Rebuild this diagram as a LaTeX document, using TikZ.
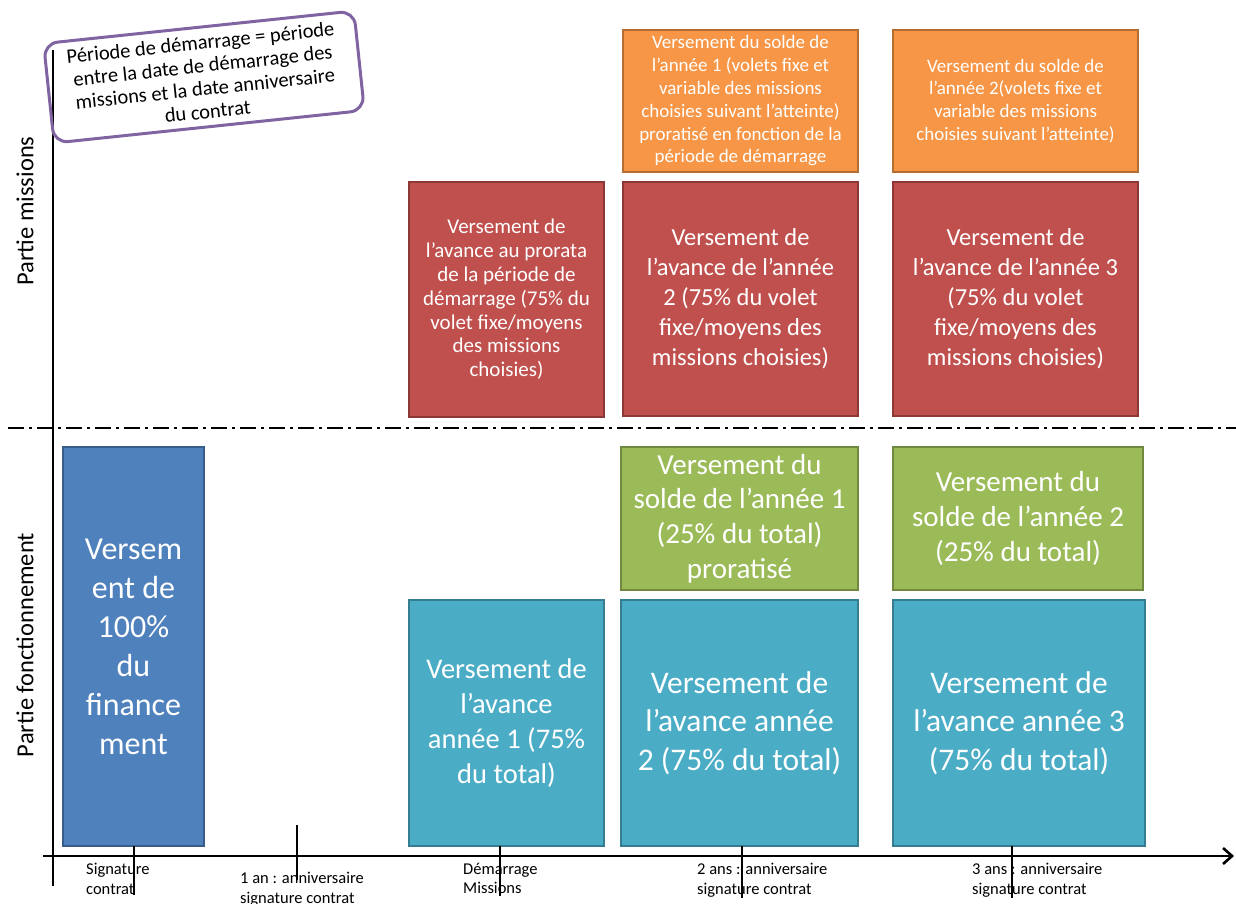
\documentclass[tikz,border=0pt]{standalone}
\usepackage{fontspec}
\setmainfont{Carlito}
\usetikzlibrary{arrows.meta}
\definecolor{cblue}{HTML}{4F81BD}\definecolor{cblueb}{HTML}{385D8A}
\definecolor{cteal}{HTML}{4BACC6}\definecolor{ctealb}{HTML}{357D91}
\definecolor{cgreen}{HTML}{9BBB59}\definecolor{cgreenb}{HTML}{71893F}
\definecolor{cred}{HTML}{C0504D}\definecolor{credb}{HTML}{8C3836}
\definecolor{corange}{HTML}{F79646}\definecolor{corangeb}{HTML}{B66D31}
\definecolor{cpurple}{HTML}{8064A2}
\begin{document}
\begin{tikzpicture}[x=1pt,y=-1pt,
  box/.style={line width=2.8pt, text=white, align=center, inner sep=0pt},
  bluebox/.style={box, fill=cblue, draw=cblueb},
  tealbox/.style={box, fill=cteal, draw=ctealb},
  greenbox/.style={box, fill=cgreen, draw=cgreenb},
  redbox/.style={box, fill=cred, draw=credb},
  orangebox/.style={box, fill=corange, draw=corangeb},
  axislabel/.style={anchor=north west, align=left, inner sep=0pt, font=\fontsize{16.5}{19.5}\selectfont},
  sidelabel/.style={rotate=90, inner sep=0pt, font=\fontsize{24.5}{28}\selectfont},
  axisline/.style={line width=2.8pt},
  tickline/.style={line width=1.5pt}
]
\useasboundingbox (0,0) rectangle (1236,904);

% dash-dot separator
\coordinate (sepL) at (8,428);
\coordinate (sepR) at (1236,428);
\draw[line width=2pt, dash pattern=on 16pt off 5pt on 3pt off 5pt] (sepL) -- (sepR);

% boxes
\node[bluebox, minimum width=141, minimum height=399, font=\fontsize{32}{39}\selectfont] (blue) at (133.5,646.5)
  {Versem\\ent de\\100\%\\du\\finance\\ment};
\node[tealbox, minimum width=195, minimum height=246, font=\fontsize{28.5}{35}\selectfont] (t1) at (506.5,723)
  {Versement de\\l’avance\\année 1 (75\%\\du total)};
\node[tealbox, minimum width=237, minimum height=246, font=\fontsize{31.5}{38.5}\selectfont] (t2) at (739.5,723)
  {Versement de\\l’avance année\\2 (75\% du total)};
\node[tealbox, minimum width=252, minimum height=246, font=\fontsize{31.5}{38.5}\selectfont] (t3) at (1019,723)
  {Versement de\\l’avance année 3\\(75\% du total)};
\node[greenbox, minimum width=237, minimum height=143, font=\fontsize{29}{34.7}\selectfont] (g1) at (739.5,518.5)
  {Versement du\\solde de l’année 1\\(25\% du total)\\proratisé};
\node[greenbox, minimum width=250, minimum height=143, font=\fontsize{29}{34.7}\selectfont] (g2) at (1018,518.5)
  {Versement du\\solde de l’année 2\\(25\% du total)};
\node[redbox, minimum width=195, minimum height=235, font=\fontsize{21}{23.8}\selectfont] (r1) at (506.5,299.5)
  {Versement de\\l’avance au prorata\\de la période de\\démarrage (75\% du\\volet fixe/moyens\\des missions\\choisies)};
\node[redbox, minimum width=235, minimum height=234, font=\fontsize{24.5}{30}\selectfont] (r2) at (740.5,299)
  {Versement de\\l’avance de l’année\\2 (75\% du volet\\fixe/moyens des\\missions choisies)};
\node[redbox, minimum width=245, minimum height=234, font=\fontsize{24.5}{30}\selectfont] (r3) at (1015.5,299)
  {Versement de\\l’avance de l’année 3\\(75\% du volet\\fixe/moyens des\\missions choisies)};
\node[orangebox, minimum width=235, minimum height=142, font=\fontsize{19}{22.8}\selectfont] (o1) at (740.5,101)
  {Versement du solde de\\l’année 1 (volets fixe et\\variable des missions\\choisies suivant l’atteinte)\\proratisé en fonction de la\\période de démarrage};
\node[orangebox, minimum width=245, minimum height=142, font=\fontsize{19}{22.8}\selectfont] (o2) at (1015.5,101)
  {Versement du solde de\\l’année 2(volets fixe et\\variable des missions\\choisies suivant l’atteinte)};

% axes
\coordinate (ytop) at (53,50);
\coordinate (ybot) at (53,886);
\coordinate (xl) at (43,856);
\coordinate (xr) at (1234,856);
\draw[axisline] (ytop) -- (ybot);
\draw[axisline, -{Straight Barb[length=9pt,width=16pt,line width=2.6pt]}] (xl) -- (xr);

% ticks
\draw[tickline] (134,846) -- (134,895);
\draw[tickline] (297,825) -- (297,880);
\draw[tickline] (500,846) -- (500,896);
\draw[tickline] (742,846) -- (742,898);
\draw[tickline] (1012,846) -- (1012,898);

% axis labels
\node[axislabel] (l0) at (86,863) {Signature\\contrat};
\node[axislabel] (l1) at (240,872) {1 an : anniversaire\\signature contrat};
\node[axislabel] (l2) at (463,863) {Démarrage\\Missions};
\node[axislabel] (l3) at (697,863) {2 ans : anniversaire\\signature contrat};
\node[axislabel] (l4) at (972,863) {3 ans : anniversaire\\signature contrat};

% side labels
\node[sidelabel] (pm) at (25,211) {Partie missions};
\node[sidelabel] (pf) at (25,645) {Partie fonctionnement};

% note
\node[draw=cpurple, line width=3pt, rounded corners=14pt, rotate=6, minimum width=312, minimum height=100,
  align=center, inner sep=0pt, font=\fontsize{20.5}{23}\selectfont] (note) at (204,77)
  {Période de démarrage = période\\entre la date de démarrage des\\missions et la date anniversaire\\du contrat};
\end{tikzpicture}
\end{document}
